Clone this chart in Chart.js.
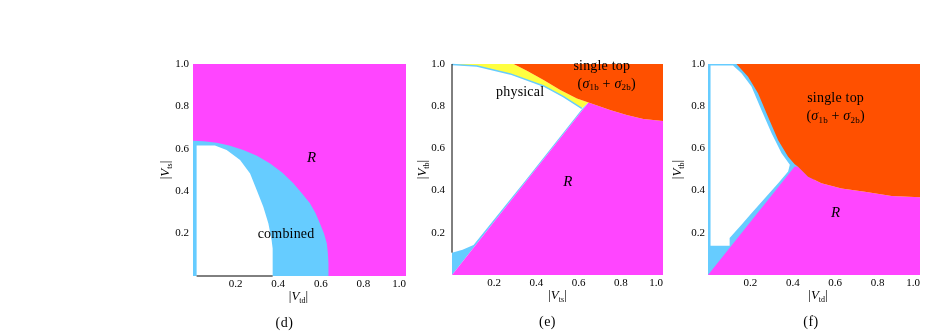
<!DOCTYPE html>
<html>
<head>
<meta charset="utf-8">
<script src="https://cdn.jsdelivr.net/npm/chart.js@4.4.0/dist/chart.umd.min.js"></script>
<style>
    body { margin: 0; background: #fff; width: 926px; height: 333px; overflow: hidden; position: relative; }
    canvas { position: absolute; }
</style>
</head>
<body>
<canvas id="chartD" width="270" height="293" style="left:150px;top:40px"></canvas>
<canvas id="chartE" width="270" height="293" style="left:405px;top:40px"></canvas>
<canvas id="chartF" width="266" height="293" style="left:660px;top:40px"></canvas>
<script>
// region boundaries as [x, y] pairs
const tickValues = [0.2, 0.4, 0.6, 0.8, 1.0];

// (d)  |V_ts| against |V_td|
const dR = [[0, 0], [1, 0], [1, 1], [0, 1]];
const dCombined = [[0, 0], [0, 0.638], [0.05, 0.636], [0.111, 0.629], [0.17, 0.615], [0.236, 0.594], [0.30, 0.567],
    [0.362, 0.531], [0.42, 0.487], [0.471, 0.437], [0.51, 0.392], [0.549, 0.343], [0.575, 0.297], [0.596, 0.248],
    [0.615, 0.2], [0.628, 0.154], [0.633, 0.11], [0.636, 0.06], [0.636, 0]];
const dPhysical = [[0.017, 0], [0.017, 0.615], [0.103, 0.615], [0.158, 0.594], [0.221, 0.547], [0.268, 0.484],
    [0.299, 0.406], [0.330, 0.327], [0.354, 0.248], [0.369, 0.17], [0.374, 0.13], [0.374, 0]];
const dAxis = [[0.017, 0], [0.374, 0]];

// (e)  |V_tb| against |V_ts|
const eR = [[0, 0], [0.647, 0.818], [0.749, 0.782], [0.828, 0.758], [0.907, 0.739], [1, 0.73], [1, 0]];
const eSingleTop = [[0.292, 1], [0.355, 0.968], [0.434, 0.924], [0.513, 0.877], [0.592, 0.837], [0.647, 0.818],
    [0.749, 0.782], [0.828, 0.758], [0.907, 0.739], [1, 0.73], [1, 1]];
const eBand = [[0, 1], [0.292, 1], [0.355, 0.968], [0.434, 0.924], [0.513, 0.877], [0.592, 0.837], [0.647, 0.818],
    [0.615, 0.79], [0.528, 0.845], [0.434, 0.896], [0.276, 0.953], [0.118, 0.991], [0, 0.998]];
const eArc = [[0, 0.998], [0.118, 0.991], [0.276, 0.953], [0.434, 0.896], [0.528, 0.845], [0.615, 0.79]];
const eCombined = [[0, 0], [0, 0.106], [0.05, 0.12], [0.102, 0.142], [0.35, 0.45], [0.62, 0.792], [0.647, 0.818]];
const eAxis = [[0, 0.106], [0, 1]];

// (f)  |V_tb| against |V_td|
const fCombined = [[0, 0], [0, 1], [0.5, 1], [0.5, 0]];
const fPhysical = [[0.012, 0.139], [0.012, 0.993], [0.118, 0.993], [0.158, 0.956], [0.205, 0.893], [0.252, 0.782],
    [0.3, 0.672], [0.347, 0.577], [0.386, 0.522], [0.378, 0.49], [0.331, 0.435], [0.268, 0.364], [0.205, 0.293],
    [0.158, 0.238], [0.102, 0.175], [0.102, 0.139]];
const fSingleTop = [[0.134, 1], [0.189, 0.94], [0.236, 0.861], [0.283, 0.75], [0.331, 0.639], [0.378, 0.56],
    [0.409, 0.525], [0.425, 0.513], [0.472, 0.466], [0.535, 0.435], [0.63, 0.41], [0.74, 0.395], [0.866, 0.375],
    [1, 0.369], [1, 1]];
const fR = [[0, 0], [0.409, 0.514], [0.425, 0.513], [0.472, 0.466], [0.535, 0.435], [0.63, 0.41], [0.74, 0.395],
    [0.866, 0.375], [1, 0.369], [1, 0]];

const MAGENTA = '#ff45ff';
const CYAN = '#66ccff';
const ORANGE = '#ff5000';
const YELLOW = '#ffff40';
const SERIF = '"Liberation Serif", "DejaVu Serif", serif';

const toPoints = arr => arr.map(p => ({ x: p[0], y: p[1] }));

function region(data, color) {
    return {
        data: toPoints(data),
        showLine: true,
        fill: 'shape',
        backgroundColor: color,
        borderWidth: 0,
        pointRadius: 0,
        tension: 0
    };
}

function stroke(data, color, width) {
    return {
        data: toPoints(data),
        showLine: true,
        fill: false,
        borderColor: color,
        borderWidth: width,
        pointRadius: 0,
        tension: 0,
        clip: false
    };
}

// text with italic letters and subscripts: parts are [text, style]
function drawRich(ctx, parts, x, y, size, spacing) {
    const fontOf = st => (st === 'i' ? 'italic ' : '') + (st === 's' ? Math.round(size * 0.62) : size) + 'px ' + SERIF;
    ctx.letterSpacing = (spacing || 0) + 'px';
    let w = 0;
    parts.forEach(([t, st]) => { ctx.font = fontOf(st); w += ctx.measureText(t).width; });
    let cx = x - w / 2;
    ctx.textAlign = 'left';
    ctx.textBaseline = 'middle';
    parts.forEach(([t, st]) => {
        ctx.font = fontOf(st);
        ctx.fillText(t, cx, st === 's' ? y + size * 0.28 : y);
        cx += ctx.measureText(t).width;
    });
    ctx.letterSpacing = '0px';
}

const panelText = {
    id: 'panelText',
    afterDatasetsDraw(chart, args, opts) {
        const { ctx, chartArea: a, scales: { x, y } } = chart;
        ctx.save();
        ctx.fillStyle = '#000';
        opts.notes.forEach(n => {
            drawRich(ctx, n.parts, x.getPixelForValue(n.x), y.getPixelForValue(n.y), n.size, 0.2);
        });
        const mid = (a.left + a.right) / 2;
        drawRich(ctx, opts.xTitle, mid + opts.xTitleShift, a.bottom + 21, 13);
        drawRich(ctx, [[opts.panel, '']], mid + opts.panelShift, a.bottom + 47, 14, 0.5);
        ctx.translate(a.left - opts.yTitleGap, (a.top + a.bottom) / 2);
        ctx.rotate(-Math.PI / 2);
        drawRich(ctx, opts.yTitle, 0, 0, 13);
        ctx.restore();
    }
};

function scales(yWidth, xHeight, yPad) {
    const tickFont = { family: SERIF, size: 11 };
    const label = v => tickValues.some(t => Math.abs(t - v) < 1e-6) ? v.toFixed(1) : '';
    return {
        x: {
            type: 'linear', min: 0, max: 1,
            afterFit: s => { s.height = xHeight; },
            grid: { display: false, drawTicks: false, tickLength: 0 },
            border: { display: false },
            ticks: { stepSize: 0.2, padding: 2, align: 'inner', autoSkip: false, maxRotation: 0,
                color: '#000', font: tickFont, callback: label }
        },
        y: {
            type: 'linear', min: 0, max: 1,
            afterFit: s => { s.width = yWidth; },
            grid: { display: false, drawTicks: false, tickLength: 0 },
            border: { display: false },
            ticks: { stepSize: 0.2, padding: yPad, autoSkip: false, color: '#000', font: tickFont, callback: label }
        }
    };
}

function makeChart(id, datasets, layout, text) {
    return new Chart(document.getElementById(id), {
        type: 'scatter',
        data: { datasets: datasets },
        options: {
            responsive: false,
            animation: false,
            devicePixelRatio: 1,
            layout: { padding: { top: 24, right: layout.right, left: 0, bottom: 0 } },
            scales: scales(layout.yWidth, layout.xHeight, layout.yPad),
            plugins: {
                legend: { display: false },
                tooltip: { enabled: false },
                panelText: text
            }
        },
        plugins: [panelText]
    });
}

const singleTop = [['single top', '']];
const sigmas = [['(', ''], ['σ', 'i'], ['1b', 's'], [' + ', ''], ['σ', 'i'], ['2b', 's'], [')', '']];

// first dataset is drawn on top
makeChart('chartD', [
    stroke(dAxis, '#000', 1),
    region(dPhysical, '#ffffff'),
    region(dCombined, CYAN),
    region(dR, MAGENTA)
], { yWidth: 43, xHeight: 57, right: 14, yPad: 4 }, {
    panel: '(d)', panelShift: -15, xTitleShift: -1, yTitleGap: 27,
    xTitle: [['|', ''], ['V', 'i'], ['td', 's'], ['|', '']],
    yTitle: [['|', ''], ['V', 'i'], ['ts', 's'], ['|', '']],
    notes: [
        { parts: [['R', 'i']], x: 0.557, y: 0.555, size: 15 },
        { parts: [['combined', '']], x: 0.437, y: 0.198, size: 14 }
    ]
});

makeChart('chartE', [
    stroke(eAxis, '#000', 1),
    region(eSingleTop, ORANGE),
    region(eR, MAGENTA),
    region(eCombined, CYAN),
    stroke(eArc, CYAN, 1.5),
    region(eBand, YELLOW)
], { yWidth: 47, xHeight: 58, right: 12, yPad: 7 }, {
    panel: '(e)', panelShift: -10, xTitleShift: 0, yTitleGap: 29,
    xTitle: [['|', ''], ['V', 'i'], ['ts', 's'], ['|', '']],
    yTitle: [['|', ''], ['V', 'i'], ['tb', 's'], ['|', '']],
    notes: [
        { parts: [['R', 'i']], x: 0.549, y: 0.442, size: 15 },
        { parts: [['physical', '']], x: 0.323, y: 0.866, size: 14 },
        { parts: singleTop, x: 0.71, y: 0.99, size: 14 },
        { parts: sigmas, x: 0.733, y: 0.905, size: 14 }
    ]
});

makeChart('chartF', [
    region(fSingleTop, ORANGE),
    region(fR, MAGENTA),
    region(fPhysical, '#ffffff'),
    region(fCombined, CYAN)
], { yWidth: 48, xHeight: 58, right: 6, yPad: 3 }, {
    panel: '(f)', panelShift: -3, xTitleShift: 4, yTitleGap: 30,
    xTitle: [['|', ''], ['V', 'i'], ['td', 's'], ['|', '']],
    yTitle: [['|', ''], ['V', 'i'], ['tb', 's'], ['|', '']],
    notes: [
        { parts: [['R', 'i']], x: 0.602, y: 0.293, size: 15 },
        { parts: singleTop, x: 0.602, y: 0.838, size: 14 },
        { parts: sigmas, x: 0.602, y: 0.75, size: 14 }
    ]
});
</script>
</body>
</html>
